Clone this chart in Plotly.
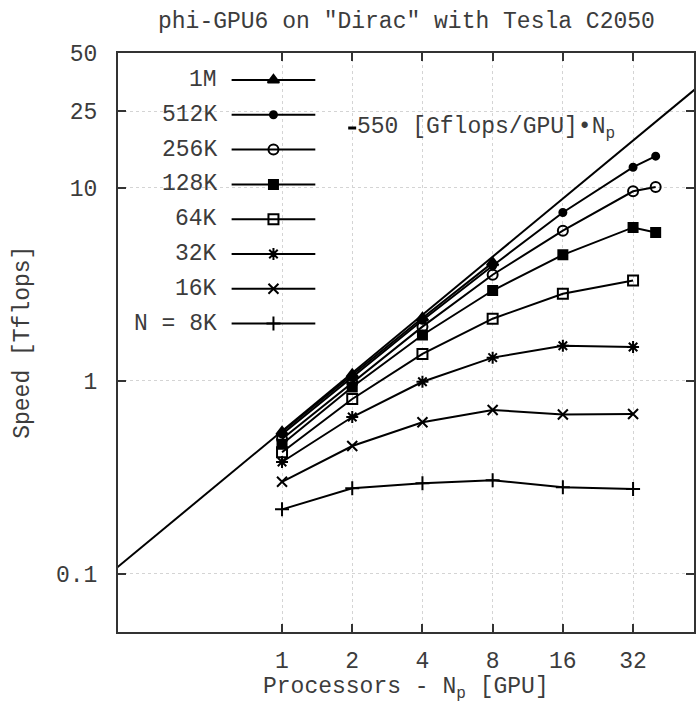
import numpy as np
import plotly.graph_objects as go

# ---------------- data ----------------
gpus = [1, 2, 4, 8, 16, 32, 40]
series_names = ["1M", "512K", "256K", "128K", "64K", "32K", "16K", "N = 8K"]
speed_1M = [0.545, 1.08, 2.12, 4.10]
speed_512K = [0.53, 1.04, 2.06, 3.95, 7.46, 12.8, 14.6]
speed_256K = [0.50, 0.98, 1.91, 3.55, 6.0, 9.6, 10.1]
speed_128K = [0.47, 0.93, 1.73, 2.94, 4.5, 6.24, 5.87]
speed_64K = [0.427, 0.806, 1.38, 2.10, 2.83, 3.31]
speed_32K = [0.38, 0.65, 0.99, 1.32, 1.52, 1.50]
speed_16K = [0.30, 0.46, 0.61, 0.707, 0.67, 0.674]
speed_8K = [0.216, 0.278, 0.295, 0.306, 0.281, 0.275]
all_speeds = [speed_1M, speed_512K, speed_256K, speed_128K,
              speed_64K, speed_32K, speed_16K, speed_8K]

peak_per_gpu_tflops = 0.55          # 550 Gflops/GPU
ideal_np = [0.15, 80]               # extent of the ideal-scaling line

x_tickvals = [1, 2, 4, 8, 16, 32]
x_ticktext = ["1", "2", "4", "8", "16", "32"]
y_tickvals = [0.1, 1, 10, 25, 50]
y_ticktext = ["0.1", "1", "10", "25", "50"]

# ---------------- style ----------------
FONT = "Liberation Mono"
FS = 23
TXT = "#3c3c3c"
W, H = 696, 704
ML, MR, MT, MB = 118, 0, 53, 72
PW, PH = W - ML - MR, H - MT - MB

symbols = ["triangle-up", "circle", "circle-open", "square", "square-open",
           "asterisk-open", "x-thin-open", "cross-thin-open"]
sizes = [10, 7, 10, 9, 10, 10, 10, 10]


def fx(px):
    return (px - ML) / PW


def fy(py):
    return 1 - (py - MT) / PH


fig = go.Figure()

# ideal scaling line
fig.add_trace(go.Scatter(
    x=ideal_np, y=[peak_per_gpu_tflops * n for n in ideal_np],
    mode="lines", line=dict(color="black", width=2), showlegend=False,
    hoverinfo="skip"))

for name, ys, sym, sz in zip(series_names, all_speeds, symbols, sizes):
    fig.add_trace(go.Scatter(
        x=gpus[:len(ys)], y=ys, mode="lines+markers", name=name,
        line=dict(color="black", width=2),
        marker=dict(symbol=sym, size=sz, color="black",
                    line=dict(color="black", width=2)),
        showlegend=False))

# ---- custom gnuplot-style key on an overlay axis pair ----
row0, dy = 80, 34.8
for i, (name, sym, sz) in enumerate(zip(series_names, symbols, sizes)):
    yy = fy(row0 + i * dy)
    fig.add_trace(go.Scatter(
        x=[fx(232), fx(316)], y=[yy, yy], mode="lines",
        line=dict(color="black", width=2), xaxis="x2", yaxis="y2",
        showlegend=False, hoverinfo="skip"))
    fig.add_trace(go.Scatter(
        x=[fx(274)], y=[yy], mode="markers",
        marker=dict(symbol=sym, size=sz, color="black",
                    line=dict(color="black", width=2)),
        xaxis="x2", yaxis="y2", showlegend=False, hoverinfo="skip"))
    fig.add_annotation(x=fx(219), y=yy, xref="x2", yref="y2", text=name,
                       showarrow=False, xanchor="right", yanchor="middle",
                       font=dict(family=FONT, size=FS, color=TXT))

# key for the ideal line
yk = fy(128)
fig.add_trace(go.Scatter(
    x=[fx(349), fx(357)], y=[yk, yk], mode="lines",
    line=dict(color="black", width=3), xaxis="x2", yaxis="y2",
    showlegend=False, hoverinfo="skip"))
fig.add_annotation(x=fx(356), y=yk, xref="x2", yref="y2",
                   text="550 [Gflops/GPU]•N<sub>p</sub>",
                   showarrow=False, xanchor="left", yanchor="middle",
                   font=dict(family=FONT, size=FS, color=TXT))

# white box hiding the grid behind the key
fig.add_shape(type="rect", xref="paper", yref="paper",
              x0=fx(120), x1=fx(330), y0=fy(342), y1=fy(55),
              fillcolor="white", line=dict(width=0), layer="between")

axis_common = dict(showline=True, linecolor="#333333", linewidth=2,
                   mirror="allticks", ticks="inside", ticklen=8,
                   tickwidth=1.5, tickcolor="#333333",
                   showgrid=True, gridcolor="#d4d4d4", griddash="dot",
                   gridwidth=1, zeroline=False,
                   tickfont=dict(family=FONT, size=FS, color=TXT))

fig.update_layout(
    width=W, height=H, plot_bgcolor="white", paper_bgcolor="white",
    margin=dict(l=ML, r=MR, t=MT, b=MB),
    showlegend=False,
    xaxis=dict(type="log", range=[np.log10(0.198), np.log10(58.4)],
               tickvals=x_tickvals, ticktext=x_ticktext,
               ticklabelstandoff=6, **axis_common),
    yaxis=dict(type="log", range=[np.log10(0.05), np.log10(50)],
               tickvals=y_tickvals, ticktext=y_ticktext,
               ticklabelstandoff=14, **axis_common),
    xaxis2=dict(overlaying="x", range=[0, 1], visible=False),
    yaxis2=dict(overlaying="y", range=[0, 1], visible=False),
)

fig.add_annotation(x=0.5, y=fy(22), xref="paper", yref="paper",
                   text='phi-GPU6 on "Dirac" with Tesla C2050', showarrow=False,
                   xanchor="center", yanchor="middle",
                   font=dict(family=FONT, size=FS, color=TXT))
fig.add_annotation(x=0.5, y=fy(688), xref="paper", yref="paper",
                   text="Processors - N<sub>p</sub> [GPU]", showarrow=False,
                   xanchor="center", yanchor="middle",
                   font=dict(family=FONT, size=FS, color=TXT))
fig.add_annotation(x=fx(22), y=0.5, xref="paper", yref="paper",
                   text="Speed [Tflops]", showarrow=False, textangle=-90,
                   xanchor="center", yanchor="middle",
                   font=dict(family=FONT, size=FS, color=TXT))

fig.write_html(
    "out.html",
    config={"displayModeBar": False},
    post_script="document.body.style.margin='0';"
                "document.body.style.overflow='hidden';")
